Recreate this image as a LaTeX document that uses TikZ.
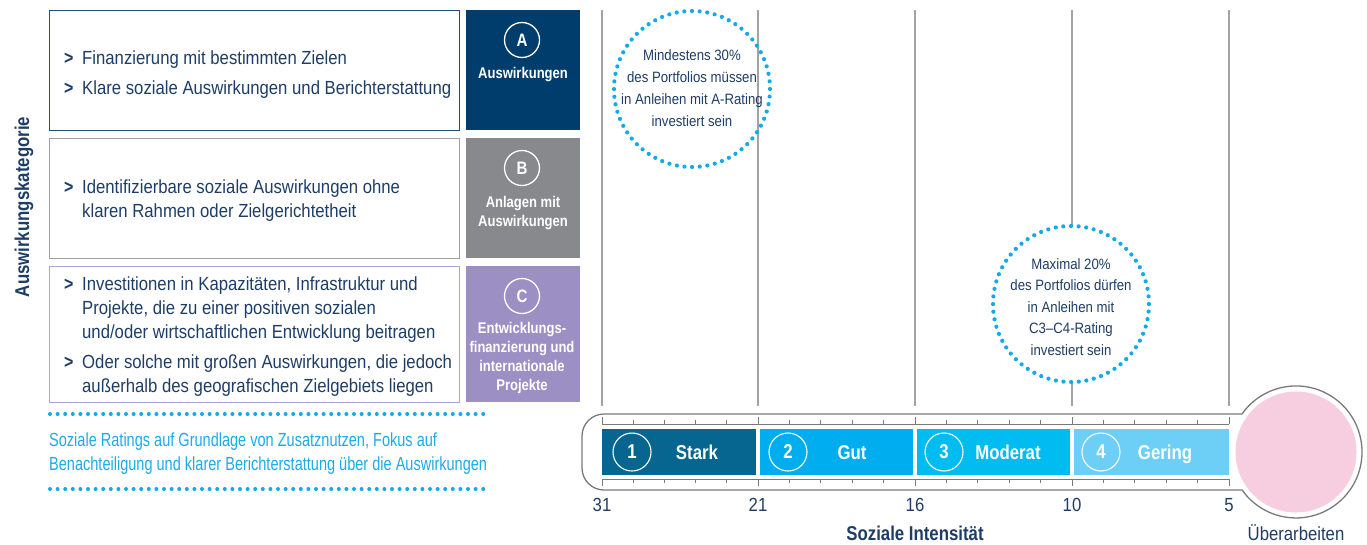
\documentclass[tikz,border=0pt]{standalone}
\usepackage{fontspec}
\setmainfont{Liberation Sans}[FakeStretch=0.88]
\newfontfamily\bfc{Liberation Sans}[FakeStretch=0.84]
\newfontfamily\cyf{Liberation Sans}[FakeStretch=0.765]
\definecolor{navy}{HTML}{1E3D66}
\definecolor{aFill}{HTML}{003C6C}
\definecolor{bFill}{HTML}{88898C}
\definecolor{cFill}{HTML}{9C8FC4}
\definecolor{aBorder}{HTML}{1F4E7F}
\definecolor{bBorder}{HTML}{A0A0A0}
\definecolor{cBorder}{HTML}{B0A4D4}
\definecolor{cyanT}{HTML}{1DAAE6}
\definecolor{dotC}{HTML}{12AAEA}
\definecolor{sA}{HTML}{07668F}
\definecolor{sB}{HTML}{00AEEF}
\definecolor{sC}{HTML}{00BCF0}
\definecolor{sD}{HTML}{6DCFF6}
\definecolor{pinkB}{HTML}{F7CEE0}
\definecolor{gridC}{HTML}{A3A3A3}
\definecolor{outl}{HTML}{7A7A7A}
\tikzset{
  bodytxt/.style={anchor=base west, inner sep=0pt, font=\fontsize{19}{24}\selectfont, text=navy},
  bul/.style={anchor=base west, inner sep=0pt, font=\bfc\bfseries\fontsize{19}{24}\selectfont, text=navy},
  cyantxt/.style={anchor=base west, inner sep=0pt, font=\cyf\fontsize{19}{24}\selectfont, text=cyanT},
  catbox/.style={anchor=north west, minimum width=410pt, minimum height=120pt, line width=1.4pt, inner sep=0pt},
  lblbox/.style={anchor=north west, minimum width=114pt, minimum height=120pt, inner sep=0pt},
  letc/.style={circle, draw=white, line width=1.3pt, minimum size=35pt, inner sep=0pt, text=white, font=\bfc\bfseries\fontsize{18}{18}\selectfont},
  lbltxt/.style={align=center, inner sep=0pt, text=white, font=\bfc\bfseries\fontsize{15.5}{19}\selectfont},
  grid/.style={draw=gridC, line width=1.1pt},
  dotline/.style={draw=dotC, line width=4pt, line cap=round, dash pattern=on 0pt off 7.6pt},
  dotcirc/.style={circle, draw=dotC, line width=4.2pt, line cap=round, dash pattern=on 0pt off 7.66pt, minimum size=156pt, inner sep=0pt},
  circtxt/.style={align=center, inner sep=0pt, text=navy, font=\fontsize{15}{22}\selectfont},
  seg/.style={anchor=north west, minimum height=46pt, inner sep=0pt},
  numc/.style={circle, draw=white, line width=1.1pt, minimum size=38pt, inner sep=0pt, text=white, font=\bfc\bfseries\fontsize{20}{20}\selectfont},
  segtxt/.style={anchor=base, inner sep=0pt, text=white, font=\bfc\bfseries\fontsize{20}{20}\selectfont},
  axnum/.style={inner sep=0pt, text=navy, font=\fontsize{19}{19}\selectfont},
  outline/.style={draw=outl, line width=1.3pt},
  tick/.style={draw=outl, line width=0.9pt}
}
\begin{document}
\begin{tikzpicture}[x=1pt,y=-1pt]
\useasboundingbox (0,0) rectangle (1367,544);
% axis label
\node[rotate=90, inner sep=0pt, text=navy, font=\bfc\bfseries\fontsize{20}{20}\selectfont] (ylab) at (24,207) {Auswirkungskategorie};
% category boxes
\node[catbox, draw=aBorder] (boxA) at (49,10) {};
\node[catbox, draw=bBorder] (boxB) at (49,138) {};
\node[catbox, draw=cBorder, minimum height=136pt] (boxC) at (49,266) {};
\node[lblbox, fill=aFill] (lA) at (466,10) {};
\node[lblbox, fill=bFill] (lB) at (466,138) {};
\node[lblbox, fill=cFill, minimum height=136pt] (lC) at (466,266) {};
\node[letc] (cA) at (522,40) {A};
\node[letc] (cB) at (522,168) {B};
\node[letc] (cC) at (522,296) {C};
\node[lbltxt] (tA) at (523,75) {Auswirkungen};
\node[lbltxt] (tB) at (523,213) {Anlagen mit\\Auswirkungen};
\node[lbltxt] (tC) at (522,358) {Entwicklungs-\\finanzierung und\\internationale\\Projekte};
% texts box A
\node[bul] (bA1) at (64,64) {>};
\node[bodytxt] (xA1) at (82,64) {Finanzierung mit bestimmten Zielen};
\node[bul] (bA2) at (64,94) {>};
\node[bodytxt] (xA2) at (82,94) {Klare soziale Auswirkungen und Berichterstattung};
% box B
\node[bul] (bB1) at (64,193) {>};
\node[bodytxt] (xB1) at (82,193) {Identifizierbare soziale Auswirkungen ohne};
\node[bodytxt] (xB2) at (82,217) {klaren Rahmen oder Zielgerichtetheit};
% box C
\node[bul] (bC1) at (64,290) {>};
\node[bodytxt] (xC1) at (82,290) {Investitionen in Kapazitäten, Infrastruktur und};
\node[bodytxt] (xC2) at (82,314) {Projekte, die zu einer positiven sozialen};
\node[bodytxt] (xC3) at (82,338) {und/oder wirtschaftlichen Entwicklung beitragen};
\node[bul] (bC2) at (64,368) {>};
\node[bodytxt] (xC4) at (82,368) {Oder solche mit großen Auswirkungen, die jedoch};
\node[bodytxt] (xC5) at (82,392) {außerhalb des geografischen Zielgebiets liegen};
% dotted lines and cyan text
\draw[dotline] (50,414) -- (490,414);
\draw[dotline] (50,489) -- (490,489);
\node[cyantxt] (k1) at (49,446) {Soziale Ratings auf Grundlage von Zusatznutzen, Fokus auf};
\node[cyantxt] (k2) at (49,470) {Benachteiligung und klarer Berichterstattung über die Auswirkungen};
% grid lines
\foreach \x in {602,758,915,1072,1229} \draw[grid] (\x,10) -- (\x,406);
% dotted circles
\node[dotcirc] (m1) at (692,89) {};
\node[circtxt] (m1t) at (692,88) {Mindestens 30\%\\des Portfolios müssen\\in Anleihen mit A-Rating\\investiert sein};
\node[dotcirc, fill=white] (m2) at (1071,304) {};
\node[circtxt, font=\fontsize{15}{21.5}\selectfont] (m2t) at (1071,307) {Maximal 20\%\\des Portfolios dürfen\\in Anleihen mit\\C3–C4-Rating\\investiert sein};
% thermometer outline
\draw[outline] (1242,414) arc[start angle=144.9, end angle=-144.9, radius=66pt] -- (604,490) arc[start angle=270, end angle=180, radius=22pt] -- (582,436) arc[start angle=180, end angle=90, radius=22pt] -- cycle;
\node[circle, fill=pinkB, minimum size=121pt, inner sep=0pt] (bulb) at (1296,452) {};
% ticks
\draw[tick] (602,424) -- (1229,424);
\draw[tick] (602,479) -- (1229,479);
\foreach \a/\b in {602/758,758/915,915/1072,1072/1229}{
  \draw[tick] (\a,417) -- (\a,424);
  \draw[tick] (\a,479) -- (\a,486);
  \foreach \i in {1,...,4}{
    \draw[tick] ({\a+\i*(\b-\a)/5},420) -- ({\a+\i*(\b-\a)/5},424);
    \draw[tick] ({\a+\i*(\b-\a)/5},479) -- ({\a+\i*(\b-\a)/5},483);
  }
}
\draw[tick] (1229,417) -- (1229,424);
\draw[tick] (1229,479) -- (1229,486);
% segments
\node[seg, fill=sA, minimum width=154pt] (s1) at (602,429) {};
\node[seg, fill=sB, minimum width=153pt] (s2) at (760,429) {};
\node[seg, fill=sC, minimum width=153pt] (s3) at (917,429) {};
\node[seg, fill=sD, minimum width=155pt] (s4) at (1074,429) {};
\node[numc] (n1) at (632,452) {1};
\node[numc] (n2) at (788,452) {2};
\node[numc] (n3) at (944,452) {3};
\node[numc] (n4) at (1101,452) {4};
\node[segtxt] (g1) at (697,459) {Stark};
\node[segtxt] (g2) at (852,459) {Gut};
\node[segtxt] (g3) at (1008,459) {Moderat};
\node[segtxt] (g4) at (1165,459) {Gering};
% axis numbers
\node[axnum] (a31) at (602,505) {31};
\node[axnum] (a21) at (758,505) {21};
\node[axnum] (a16) at (915,505) {16};
\node[axnum] (a10) at (1072,505) {10};
\node[axnum] (a5) at (1229,505) {5};
\node[inner sep=0pt, text=navy, font=\bfc\bfseries\fontsize{20}{20}\selectfont] (xlab) at (915,533) {Soziale Intensität};
\node[axnum] (ueb) at (1296,533) {Überarbeiten};
\end{tikzpicture}
\end{document}
